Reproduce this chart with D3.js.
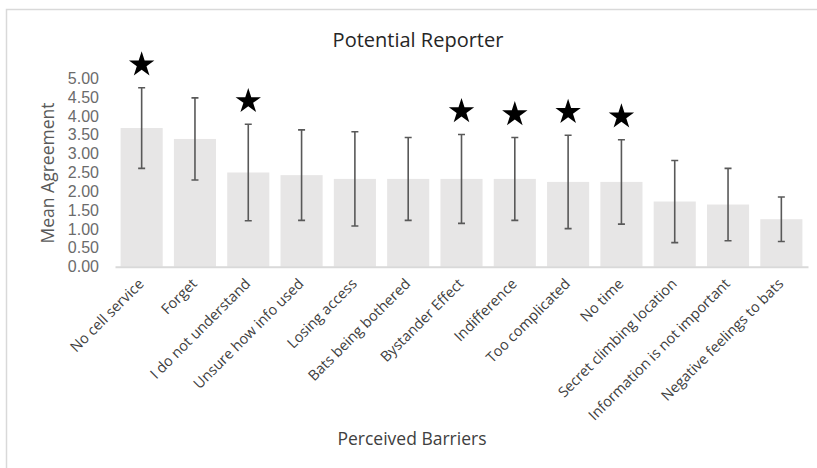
<!DOCTYPE html>
<html>
<head>
<meta charset="utf-8">
<script src="https://cdn.jsdelivr.net/npm/d3@7"></script>
<style>
  html, body { margin: 0; padding: 0; background: #ffffff; }
  svg { display: block; font-family: "Open Sans", "Liberation Sans", sans-serif; }
</style>
</head>
<body>
<svg id="chart" width="817" height="468"></svg>
<script>
// Perceived barriers to reporting, mean agreement with ± SD
const categories = [
  "No cell service", "Forget", "I do not understand", "Unsure how info used",
  "Losing access", "Bats being bothered", "Bystander Effect", "Indifference",
  "Too complicated", "No time", "Secret climbing location",
  "Information is not important", "Negative feelings to bats"
];
const meanAgreement = [3.68, 3.39, 2.50, 2.43, 2.33, 2.33, 2.33, 2.33, 2.25, 2.25, 1.73, 1.65, 1.26];
const stdDev       = [1.07, 1.09, 1.28, 1.20, 1.25, 1.10, 1.18, 1.10, 1.24, 1.12, 1.09, 0.96, 0.59];
const significant  = [true, false, true, false, false, false, true, true, true, true, false, false, false];
const yTicks = [0, 0.5, 1, 1.5, 2, 2.5, 3, 3.5, 4, 4.5, 5];

const svg = d3.select("#chart");

// chart frame
svg.append("rect")
  .attr("x", 6.5).attr("y", 9.5)
  .attr("width", 830).attr("height", 480)
  .attr("fill", "#ffffff")
  .attr("stroke", "#d9d9d9").attr("stroke-width", 1.5);

const plot = { left: 115, right: 808, top: 78.3, bottom: 266.7 };

const x = d3.scaleBand()
  .domain(categories)
  .range([plot.left, plot.right])
  .paddingInner(0.21)
  .paddingOuter(0.105);

const y = d3.scaleLinear()
  .domain([0, 5])
  .range([plot.bottom, plot.top]);

const data = categories.map((c, i) => ({
  name: c, mean: meanAgreement[i], sd: stdDev[i], star: significant[i]
}));

// bars
svg.append("g").selectAll("rect")
  .data(data)
  .join("rect")
  .attr("x", d => x(d.name))
  .attr("y", d => y(d.mean))
  .attr("width", x.bandwidth())
  .attr("height", d => y(0) - y(d.mean))
  .attr("fill", "#e7e6e6");

// y axis (labels only)
const yAxis = svg.append("g")
  .attr("transform", `translate(${plot.left - 16},0)`)
  .call(d3.axisLeft(y).tickValues(yTicks).tickFormat(d3.format(".2f")).tickSize(0).tickPadding(0));
yAxis.select(".domain").remove();
yAxis.selectAll("text")
  .attr("fill", "#6b6b6b")
  .attr("font-size", "16px")
  .attr("font-family", "\"Liberation Sans\", sans-serif");

// x axis baseline and rotated category labels
const xAxis = svg.append("g")
  .attr("transform", `translate(0,${plot.bottom})`)
  .call(d3.axisBottom(x).tickSize(0).tickPadding(0).tickSizeOuter(0));
xAxis.select(".domain")
  .attr("stroke", "#d9d9d9").attr("stroke-width", 2);
xAxis.selectAll(".tick text")
  .attr("text-anchor", "end")
  .attr("dy", "0")
  .attr("y", 0)
  .attr("transform", "translate(3,18) rotate(-45)")
  .attr("fill", "#404040")
  .attr("font-size", "14.5px")
  .attr("font-family", "\"Open Sans\", sans-serif");

// error bars
const err = svg.append("g")
  .attr("stroke", "#595959")
  .attr("stroke-width", 1.6)
  .attr("fill", "none");
const cx = d => x(d.name) + x.bandwidth() / 2;
const capHalf = 3.5;
err.selectAll("path")
  .data(data)
  .join("path")
  .attr("d", d => {
    const c = cx(d), t = y(d.mean + d.sd), b = y(d.mean - d.sd);
    return `M${c - capHalf},${t}H${c + capHalf}M${c},${t}V${b}M${c - capHalf},${b}H${c + capHalf}`;
  });

// significance stars above error bars
const star = d3.symbol().type(d3.symbolStar).size(200);
svg.append("g").selectAll("path")
  .data(data.filter(d => d.star))
  .join("path")
  .attr("d", star)
  .attr("transform", d => `translate(${cx(d)},${y(d.mean + d.sd) - 23})`)
  .attr("fill", "#000000");

// titles
svg.append("text")
  .attr("x", 418).attr("y", 47)
  .attr("text-anchor", "middle")
  .attr("font-size", "20px")
  .attr("fill", "#262626")
  .text("Potential Reporter");

svg.append("text")
  .attr("transform", "translate(54,173) rotate(-90)")
  .attr("text-anchor", "middle")
  .attr("font-size", "17.5px")
  .attr("fill", "#595959")
  .text("Mean Agreement");

svg.append("text")
  .attr("x", 412).attr("y", 445)
  .attr("text-anchor", "middle")
  .attr("font-size", "17.5px")
  .attr("fill", "#404040")
  .text("Perceived Barriers");
</script>
</body>
</html>
